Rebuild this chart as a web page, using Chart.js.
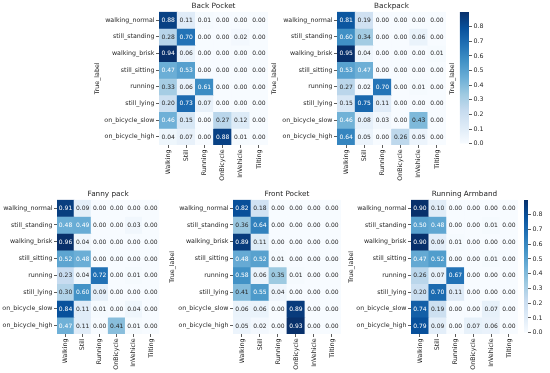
<!DOCTYPE html>
<html>
<head>
<meta charset="utf-8">
<script src="https://cdn.jsdelivr.net/npm/chart.js@4.4.1/dist/chart.umd.min.js"></script>
<style>
  html, body { margin: 0; padding: 0; background: #fff; }
  body { position: relative; width: 550px; height: 373px; overflow: hidden; }
  .box { position: absolute; }
</style>
</head>
<body>
<div class="box" id="bp-box"><canvas id="bp"></canvas></div>
<div class="box" id="bk-box"><canvas id="bk"></canvas></div>
<div class="box" id="bkcb-box"><canvas id="bkcb"></canvas></div>
<div class="box" id="fp-box"><canvas id="fp"></canvas></div>
<div class="box" id="fr-box"><canvas id="fr"></canvas></div>
<div class="box" id="ra-box"><canvas id="ra"></canvas></div>
<div class="box" id="racb-box"><canvas id="racb"></canvas></div>
<script>
// true labels (rows) and predicted labels (columns)
const rowLabels = ['walking_normal', 'still_standing', 'walking_brisk', 'still_sitting',
                   'running', 'still_lying', 'on_bicycle_slow', 'on_bicycle_high'];
const colLabels = ['Walking', 'Still', 'Running', 'OnBicycle', 'InVehicle', 'Tilting'];

const backPocket = [
    [0.88, 0.11, 0.01, 0.00, 0.00, 0.00],
    [0.28, 0.70, 0.00, 0.00, 0.02, 0.00],
    [0.94, 0.06, 0.00, 0.00, 0.00, 0.00],
    [0.47, 0.53, 0.00, 0.00, 0.00, 0.00],
    [0.33, 0.06, 0.61, 0.00, 0.00, 0.00],
    [0.20, 0.73, 0.07, 0.00, 0.00, 0.00],
    [0.46, 0.15, 0.00, 0.27, 0.12, 0.00],
    [0.04, 0.07, 0.00, 0.88, 0.01, 0.00]
];
const backpack = [
    [0.81, 0.19, 0.00, 0.00, 0.00, 0.00],
    [0.60, 0.34, 0.00, 0.00, 0.06, 0.00],
    [0.95, 0.04, 0.00, 0.00, 0.00, 0.01],
    [0.53, 0.47, 0.00, 0.00, 0.00, 0.00],
    [0.27, 0.02, 0.70, 0.00, 0.01, 0.00],
    [0.15, 0.75, 0.11, 0.00, 0.00, 0.00],
    [0.46, 0.08, 0.03, 0.00, 0.43, 0.00],
    [0.64, 0.05, 0.00, 0.26, 0.05, 0.00]
];
const fannyPack = [
    [0.91, 0.09, 0.00, 0.00, 0.00, 0.00],
    [0.48, 0.49, 0.00, 0.00, 0.03, 0.00],
    [0.96, 0.04, 0.00, 0.00, 0.00, 0.00],
    [0.52, 0.48, 0.00, 0.00, 0.00, 0.00],
    [0.23, 0.04, 0.72, 0.00, 0.01, 0.00],
    [0.30, 0.60, 0.09, 0.00, 0.00, 0.00],
    [0.84, 0.11, 0.01, 0.00, 0.04, 0.00],
    [0.47, 0.11, 0.00, 0.41, 0.01, 0.00]
];
const frontPocket = [
    [0.82, 0.18, 0.00, 0.00, 0.00, 0.00],
    [0.36, 0.64, 0.00, 0.00, 0.00, 0.00],
    [0.89, 0.11, 0.00, 0.00, 0.00, 0.00],
    [0.48, 0.52, 0.01, 0.00, 0.00, 0.00],
    [0.58, 0.06, 0.35, 0.01, 0.00, 0.00],
    [0.41, 0.55, 0.04, 0.00, 0.00, 0.00],
    [0.06, 0.06, 0.00, 0.89, 0.00, 0.00],
    [0.05, 0.02, 0.00, 0.93, 0.00, 0.00]
];
const runningArmband = [
    [0.90, 0.10, 0.00, 0.00, 0.00, 0.00],
    [0.50, 0.48, 0.00, 0.00, 0.01, 0.00],
    [0.90, 0.09, 0.01, 0.00, 0.00, 0.00],
    [0.47, 0.52, 0.00, 0.00, 0.01, 0.00],
    [0.26, 0.07, 0.67, 0.00, 0.00, 0.00],
    [0.20, 0.70, 0.11, 0.00, 0.00, 0.00],
    [0.74, 0.19, 0.00, 0.00, 0.07, 0.00],
    [0.79, 0.09, 0.00, 0.07, 0.06, 0.00]
];

// colorbar
const cbTicks = [0.0, 0.1, 0.2, 0.3, 0.4, 0.5, 0.6, 0.7, 0.8];
const cbMax = 0.9;

const FONT = 'DejaVu Sans';
const INK = '#262626';
const TICK_SIZE = 6.3;
const BLUES = [[247,251,255],[222,235,247],[198,219,239],[158,202,225],[107,174,214],
               [66,146,198],[33,113,181],[8,81,156],[8,48,107]];

function bluesRgb(t) {
    t = Math.max(0, Math.min(1, t));
    const p = t * (BLUES.length - 1);
    const i = Math.min(Math.floor(p), BLUES.length - 2);
    const f = p - i;
    return BLUES[i].map((c, k) => c + (BLUES[i + 1][k] - c) * f);
}
function rgbStr(c) {
    return 'rgb(' + c.map(Math.round).join(',') + ')';
}
function luminance(c) {
    const v = c.map(x => {
        x = x / 255;
        return x <= 0.03928 ? x / 12.92 : Math.pow((x + 0.055) / 1.055, 2.4);
    });
    return 0.2126 * v[0] + 0.7152 * v[1] + 0.0722 * v[2];
}

const cellText = {
    id: 'cellText',
    afterDatasetsDraw(chart) {
        const ctx = chart.ctx;
        ctx.save();
        ctx.font = '6px "' + FONT + '"';
        ctx.textAlign = 'center';
        ctx.textBaseline = 'middle';
        chart.data.datasets.forEach((ds, di) => {
            chart.getDatasetMeta(di).data.forEach((el, j) => {
                const v = ds.cellValues[j];
                ctx.fillStyle = luminance(ds.cellRgb[j]) > 0.408 ? INK : '#ffffff';
                ctx.fillText(v.toFixed(2), el.x, (el.y + el.base) / 2 + 0.5);
            });
        });
        ctx.restore();
    }
};

function place(id, left, top, width, height) {
    const el = document.getElementById(id);
    el.style.left = left + 'px';
    el.style.top = top + 'px';
    el.style.width = width + 'px';
    el.style.height = height + 'px';
}

function heatmap(id, title, values, yw) {
    let vmax = 0;
    values.forEach(r => r.forEach(v => { vmax = Math.max(vmax, v); }));
    const datasets = rowLabels.map((r, i) => {
        const rgb = values[i].map(v => bluesRgb(v / vmax));
        return {
            label: r,
            data: colLabels.map(() => [i, i + 1]),
            cellValues: values[i],
            cellRgb: rgb,
            backgroundColor: rgb.map(rgbStr),
            borderWidth: 0,
            barPercentage: 1,
            categoryPercentage: 1,
            grouped: false
        };
    });
    new Chart(document.getElementById(id), {
        type: 'bar',
        data: { labels: colLabels, datasets: datasets },
        options: {
            responsive: true,
            maintainAspectRatio: false,
            animation: false,
            layout: { padding: 0 },
            plugins: {
                legend: { display: false },
                tooltip: { enabled: false },
                title: {
                    display: true,
                    text: title,
                    fullSize: false,
                    color: INK,
                    font: { family: FONT, size: 7.3, weight: 'normal', lineHeight: 1.1 },
                    padding: { top: 1.7, bottom: 2 }
                }
            },
            scales: {
                x: {
                    type: 'category',
                    offset: true,
                    grid: { offset: false, drawOnChartArea: false, tickLength: 3, color: '#333', lineWidth: 0.8 },
                    border: { display: false },
                    ticks: { autoSkip: false, maxRotation: 90, minRotation: 90, color: INK,
                             font: { family: FONT, size: TICK_SIZE }, padding: 1.5 },
                    afterFit: s => { s.height = 45; }
                },
                y: {
                    type: 'linear',
                    min: 0,
                    max: rowLabels.length,
                    reverse: true,
                    afterBuildTicks: s => { s.ticks = rowLabels.map((_, i) => ({ value: i + 0.5 })); },
                    ticks: { autoSkip: false, color: INK, font: { family: FONT, size: TICK_SIZE }, padding: 1.5,
                             callback: v => rowLabels[Math.floor(v)] },
                    grid: { drawOnChartArea: false, tickLength: 3, color: '#333', lineWidth: 0.8 },
                    border: { display: false },
                    title: { display: true, text: 'True_label', color: INK,
                             font: { family: FONT, size: TICK_SIZE, lineHeight: 1 }, padding: 0 },
                    afterFit: s => { s.width = yw; }
                }
            }
        },
        plugins: [cellText]
    });
}

function colorbar(id, showTitle) {
    new Chart(document.getElementById(id), {
        type: 'bar',
        data: {
            labels: [''],
            datasets: [{
                data: [[0, cbMax]],
                borderWidth: 0,
                barPercentage: 1,
                categoryPercentage: 1,
                backgroundColor: c => {
                    const ch = c.chart;
                    if (!ch.chartArea) return rgbStr(BLUES[4]);
                    const g = ch.ctx.createLinearGradient(0, ch.chartArea.bottom, 0, ch.chartArea.top);
                    BLUES.forEach((col, i) => g.addColorStop(i / (BLUES.length - 1), rgbStr(col)));
                    return g;
                }
            }]
        },
        options: {
            responsive: true,
            maintainAspectRatio: false,
            animation: false,
            layout: { padding: { top: 6, bottom: 4, left: 0, right: 0 } },
            plugins: {
                legend: { display: false },
                tooltip: { enabled: false },
                title: {
                    display: showTitle,
                    position: 'left',
                    text: 'True_label',
                    color: INK,
                    font: { family: FONT, size: TICK_SIZE, weight: 'normal', lineHeight: 1 },
                    padding: { top: 0, bottom: 4.5 }
                }
            },
            scales: {
                x: { display: false },
                y: {
                    position: 'right',
                    min: 0,
                    max: cbMax,
                    afterBuildTicks: s => { s.ticks = cbTicks.map(v => ({ value: v })); },
                    ticks: { color: INK, font: { family: FONT, size: TICK_SIZE }, padding: 1.5,
                             callback: v => v.toFixed(1) },
                    grid: { drawOnChartArea: false, tickLength: 3, color: '#333', lineWidth: 0.8 },
                    border: { display: false },
                    afterFit: s => { s.width = 22; }
                }
            }
        }
    });
}

// top row
place('bp-box', 94, 0, 174, 190);
place('bk-box', 271, 0, 175, 190);
place('bkcb-box', 448.5, 6, 42, 143);
// bottom row
place('fp-box', -7, 188, 167, 191);
place('fr-box', 169, 188, 172, 191);
place('ra-box', 348, 188, 170, 191);
place('racb-box', 524, 194, 26, 144);

heatmap('bp', 'Back Pocket', backPocket, 65);
heatmap('bk', 'Backpack', backpack, 66);
colorbar('bkcb', true);
heatmap('fp', 'Fanny pack', fannyPack, 64);
heatmap('fr', 'Front Pocket', frontPocket, 64);
heatmap('ra', 'Running Armband', runningArmband, 63);
colorbar('racb', false);
</script>
</body>
</html>
